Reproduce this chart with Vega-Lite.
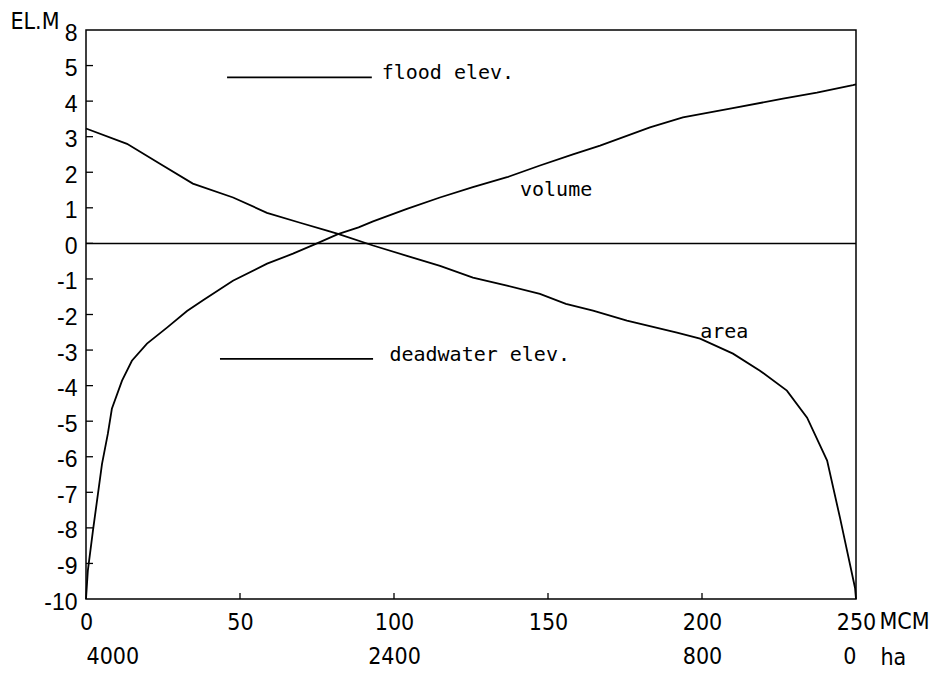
{
  "$schema": "https://vega.github.io/schema/vega-lite/v6.json",
  "width": 770,
  "height": 569,
  "autosize": {"type": "none"},
  "padding": {"left": 86, "top": 30, "right": 75, "bottom": 76},
  "background": "white",
  "config": {
    "view": {"stroke": "black", "strokeWidth": 1.5},
    "axis": {
      "domain": false,
      "grid": false,
      "ticks": false,
      "labelColor": "black",
      "titleColor": "black",
      "labelOverlap": false,
      "labelBound": false,
      "titleFontWeight": "normal"
    }
  },
  "datasets": {
    "volume": [
      {"mcm": 0, "elev": -10.0},
      {"mcm": 0.6, "elev": -9.2},
      {"mcm": 2.3, "elev": -8.05},
      {"mcm": 5.2, "elev": -6.2},
      {"mcm": 7.1, "elev": -5.35},
      {"mcm": 8.4, "elev": -4.65},
      {"mcm": 11.7, "elev": -3.86},
      {"mcm": 14.9, "elev": -3.3},
      {"mcm": 19.8, "elev": -2.82},
      {"mcm": 26.3, "elev": -2.37},
      {"mcm": 32.8, "elev": -1.9},
      {"mcm": 38.0, "elev": -1.6},
      {"mcm": 47.7, "elev": -1.05},
      {"mcm": 58.8, "elev": -0.57},
      {"mcm": 67.2, "elev": -0.29},
      {"mcm": 75.0, "elev": 0.0},
      {"mcm": 81.8, "elev": 0.26},
      {"mcm": 88.5, "elev": 0.45},
      {"mcm": 93.2, "elev": 0.62},
      {"mcm": 104.2, "elev": 0.97},
      {"mcm": 114.9, "elev": 1.29},
      {"mcm": 125.6, "elev": 1.58},
      {"mcm": 136.7, "elev": 1.86},
      {"mcm": 147.4, "elev": 2.19},
      {"mcm": 158.1, "elev": 2.5},
      {"mcm": 166.9, "elev": 2.75},
      {"mcm": 183.1, "elev": 3.26},
      {"mcm": 193.8, "elev": 3.54},
      {"mcm": 210.0, "elev": 3.8},
      {"mcm": 226.3, "elev": 4.07},
      {"mcm": 237.3, "elev": 4.24},
      {"mcm": 249.0, "elev": 4.45},
      {"mcm": 250.0, "elev": 4.47}
    ],
    "area": [
      {"ha": 4000, "elev": 3.23},
      {"ha": 3787, "elev": 2.8},
      {"ha": 3616, "elev": 2.24},
      {"ha": 3445, "elev": 1.68},
      {"ha": 3236, "elev": 1.29},
      {"ha": 3060, "elev": 0.86},
      {"ha": 2888, "elev": 0.58},
      {"ha": 2748, "elev": 0.36},
      {"ha": 2691, "elev": 0.27},
      {"ha": 2509, "elev": -0.06},
      {"ha": 2333, "elev": -0.35},
      {"ha": 2161, "elev": -0.63},
      {"ha": 1990, "elev": -0.96},
      {"ha": 1813, "elev": -1.19},
      {"ha": 1642, "elev": -1.42},
      {"ha": 1507, "elev": -1.7},
      {"ha": 1366, "elev": -1.89},
      {"ha": 1190, "elev": -2.17},
      {"ha": 930, "elev": -2.51},
      {"ha": 810, "elev": -2.68},
      {"ha": 639, "elev": -3.1},
      {"ha": 499, "elev": -3.58},
      {"ha": 359, "elev": -4.14},
      {"ha": 254, "elev": -4.9},
      {"ha": 150, "elev": -6.11},
      {"ha": 83, "elev": -7.72},
      {"ha": 5, "elev": -9.69},
      {"ha": 0, "elev": -10.0}
    ],
    "levels": [
      {"name": "flood elev.", "from": 45.8, "to": 92.8, "elev": 4.67},
      {"name": "deadwater elev.", "from": 43.5, "to": 93.2, "elev": -3.25}
    ],
    "notes": [
      {"text": "flood elev.", "mcm": 96.0, "elev": 4.62},
      {"text": "deadwater elev.", "mcm": 98.5, "elev": -3.32},
      {"text": "volume", "mcm": 140.9, "elev": 1.34},
      {"text": "area", "mcm": 199.4, "elev": -2.65}
    ],
    "datum": [{"elev": 0}],
    "yticks": [
      {"elev": -9}, {"elev": -8}, {"elev": -7}, {"elev": -6}, {"elev": -5},
      {"elev": -4}, {"elev": -3}, {"elev": -2}, {"elev": -1}, {"elev": 0},
      {"elev": 1}, {"elev": 2}, {"elev": 3}, {"elev": 4}, {"elev": 5}
    ],
    "xticks": [{"mcm": 50}, {"mcm": 100}, {"mcm": 150}, {"mcm": 200}]
  },
  "layer": [
    {
      "layer": [
        {
          "data": {"name": "volume"},
          "mark": {"type": "line", "color": "black", "strokeWidth": 1.8},
          "encoding": {
            "x": {
              "field": "mcm",
              "type": "quantitative",
              "scale": {"domain": [0, 250], "nice": false, "zero": false},
              "axis": {
                "orient": "bottom",
                "values": [0, 50, 100, 150, 200, 250],
                "labelPadding": 12.5,
                "labelFlush": false,
                "labelFont": "DejaVu Sans Condensed, Liberation Sans",
                "labelFontSize": 23,
                "title": "MCM",
                "titleFont": "DejaVu Sans Condensed, Liberation Sans",
                "titleFontSize": 23,
                "titleAngle": 0,
                "titleAlign": "left",
                "titleBaseline": "middle",
                "titleAnchor": null,
                "titleX": 793,
                "titleY": 22.5
              }
            },
            "y": {
              "field": "elev",
              "type": "quantitative",
              "scale": {"domain": [-10, 6], "nice": false, "zero": false},
              "axis": {
                "orient": "left",
                "values": [-10, -9, -8, -7, -6, -5, -4, -3, -2, -1, 0, 1, 2, 3, 4, 5, 6],
                "labelExpr": "datum.value == 6 ? '8' : toString(datum.value)",
                "labelPadding": 9,
                "labelOffset": 3,
                "labelFont": "Liberation Sans",
                "labelFontSize": 23,
                "title": "EL.M",
                "titleFont": "DejaVu Sans Condensed, Liberation Sans",
                "titleFontSize": 23,
                "titleAngle": 0,
                "titleAlign": "left",
                "titleBaseline": "middle",
                "titleAnchor": null,
                "titleX": -76,
                "titleY": -9
              }
            }
          }
        },
        {
          "data": {"name": "datum"},
          "mark": {"type": "rule", "color": "black", "strokeWidth": 1.5},
          "encoding": {
            "y": {
              "field": "elev",
              "type": "quantitative",
              "axis": {
                "orient": "left",
                "values": [-10, -9, -8, -7, -6, -5, -4, -3, -2, -1, 0, 1, 2, 3, 4, 5, 6],
                "labelExpr": "datum.value == 6 ? '8' : toString(datum.value)",
                "labelPadding": 9,
                "labelOffset": 3,
                "labelFont": "Liberation Sans",
                "labelFontSize": 23,
                "title": "EL.M",
                "titleFont": "DejaVu Sans Condensed, Liberation Sans",
                "titleFontSize": 23,
                "titleAngle": 0,
                "titleAlign": "left",
                "titleBaseline": "middle",
                "titleAnchor": null,
                "titleX": -76,
                "titleY": -9
              }
            }
          }
        },
        {
          "data": {"name": "yticks"},
          "mark": {"type": "tick", "orient": "horizontal", "size": 14, "thickness": 1.3, "color": "black", "opacity": 1, "clip": true},
          "encoding": {
            "x": {
              "datum": 0,
              "type": "quantitative",
              "axis": {
                "orient": "bottom",
                "values": [0, 50, 100, 150, 200, 250],
                "labelPadding": 12.5,
                "labelFlush": false,
                "labelFont": "DejaVu Sans Condensed, Liberation Sans",
                "labelFontSize": 23,
                "title": "MCM",
                "titleFont": "DejaVu Sans Condensed, Liberation Sans",
                "titleFontSize": 23,
                "titleAngle": 0,
                "titleAlign": "left",
                "titleBaseline": "middle",
                "titleAnchor": null,
                "titleX": 793,
                "titleY": 22.5
              }
            },
            "y": {
              "field": "elev",
              "type": "quantitative",
              "axis": {
                "orient": "left",
                "values": [-10, -9, -8, -7, -6, -5, -4, -3, -2, -1, 0, 1, 2, 3, 4, 5, 6],
                "labelExpr": "datum.value == 6 ? '8' : toString(datum.value)",
                "labelPadding": 9,
                "labelOffset": 3,
                "labelFont": "Liberation Sans",
                "labelFontSize": 23,
                "title": "EL.M",
                "titleFont": "DejaVu Sans Condensed, Liberation Sans",
                "titleFontSize": 23,
                "titleAngle": 0,
                "titleAlign": "left",
                "titleBaseline": "middle",
                "titleAnchor": null,
                "titleX": -76,
                "titleY": -9
              }
            }
          }
        },
        {
          "data": {"name": "xticks"},
          "mark": {"type": "tick", "orient": "vertical", "size": 12, "thickness": 1.3, "color": "black", "opacity": 1, "clip": true},
          "encoding": {
            "x": {
              "field": "mcm",
              "type": "quantitative",
              "axis": {
                "orient": "bottom",
                "values": [0, 50, 100, 150, 200, 250],
                "labelPadding": 12.5,
                "labelFlush": false,
                "labelFont": "DejaVu Sans Condensed, Liberation Sans",
                "labelFontSize": 23,
                "title": "MCM",
                "titleFont": "DejaVu Sans Condensed, Liberation Sans",
                "titleFontSize": 23,
                "titleAngle": 0,
                "titleAlign": "left",
                "titleBaseline": "middle",
                "titleAnchor": null,
                "titleX": 793,
                "titleY": 22.5
              }
            },
            "y": {
              "datum": -10,
              "type": "quantitative",
              "axis": {
                "orient": "left",
                "values": [-10, -9, -8, -7, -6, -5, -4, -3, -2, -1, 0, 1, 2, 3, 4, 5, 6],
                "labelExpr": "datum.value == 6 ? '8' : toString(datum.value)",
                "labelPadding": 9,
                "labelOffset": 3,
                "labelFont": "Liberation Sans",
                "labelFontSize": 23,
                "title": "EL.M",
                "titleFont": "DejaVu Sans Condensed, Liberation Sans",
                "titleFontSize": 23,
                "titleAngle": 0,
                "titleAlign": "left",
                "titleBaseline": "middle",
                "titleAnchor": null,
                "titleX": -76,
                "titleY": -9
              }
            }
          }
        },
        {
          "data": {"name": "levels"},
          "mark": {"type": "rule", "color": "black", "strokeWidth": 1.8},
          "encoding": {
            "x": {
              "field": "from",
              "type": "quantitative",
              "axis": {
                "orient": "bottom",
                "values": [0, 50, 100, 150, 200, 250],
                "labelPadding": 12.5,
                "labelFlush": false,
                "labelFont": "DejaVu Sans Condensed, Liberation Sans",
                "labelFontSize": 23,
                "title": "MCM",
                "titleFont": "DejaVu Sans Condensed, Liberation Sans",
                "titleFontSize": 23,
                "titleAngle": 0,
                "titleAlign": "left",
                "titleBaseline": "middle",
                "titleAnchor": null,
                "titleX": 793,
                "titleY": 22.5
              }
            },
            "x2": {"field": "to"},
            "y": {
              "field": "elev",
              "type": "quantitative",
              "axis": {
                "orient": "left",
                "values": [-10, -9, -8, -7, -6, -5, -4, -3, -2, -1, 0, 1, 2, 3, 4, 5, 6],
                "labelExpr": "datum.value == 6 ? '8' : toString(datum.value)",
                "labelPadding": 9,
                "labelOffset": 3,
                "labelFont": "Liberation Sans",
                "labelFontSize": 23,
                "title": "EL.M",
                "titleFont": "DejaVu Sans Condensed, Liberation Sans",
                "titleFontSize": 23,
                "titleAngle": 0,
                "titleAlign": "left",
                "titleBaseline": "middle",
                "titleAnchor": null,
                "titleX": -76,
                "titleY": -9
              }
            }
          }
        },
        {
          "data": {"name": "notes"},
          "mark": {
            "type": "text",
            "align": "left",
            "baseline": "alphabetic",
            "font": "DejaVu Sans Mono",
            "fontSize": 20,
            "color": "black"
          },
          "encoding": {
            "x": {
              "field": "mcm",
              "type": "quantitative",
              "axis": {
                "orient": "bottom",
                "values": [0, 50, 100, 150, 200, 250],
                "labelPadding": 12.5,
                "labelFlush": false,
                "labelFont": "DejaVu Sans Condensed, Liberation Sans",
                "labelFontSize": 23,
                "title": "MCM",
                "titleFont": "DejaVu Sans Condensed, Liberation Sans",
                "titleFontSize": 23,
                "titleAngle": 0,
                "titleAlign": "left",
                "titleBaseline": "middle",
                "titleAnchor": null,
                "titleX": 793,
                "titleY": 22.5
              }
            },
            "y": {
              "field": "elev",
              "type": "quantitative",
              "axis": {
                "orient": "left",
                "values": [-10, -9, -8, -7, -6, -5, -4, -3, -2, -1, 0, 1, 2, 3, 4, 5, 6],
                "labelExpr": "datum.value == 6 ? '8' : toString(datum.value)",
                "labelPadding": 9,
                "labelOffset": 3,
                "labelFont": "Liberation Sans",
                "labelFontSize": 23,
                "title": "EL.M",
                "titleFont": "DejaVu Sans Condensed, Liberation Sans",
                "titleFontSize": 23,
                "titleAngle": 0,
                "titleAlign": "left",
                "titleBaseline": "middle",
                "titleAnchor": null,
                "titleX": -76,
                "titleY": -9
              }
            },
            "text": {"field": "text"}
          }
        }
      ]
    },
    {
      "data": {"name": "area"},
      "mark": {"type": "line", "color": "black", "strokeWidth": 1.8},
      "encoding": {
        "x": {
          "field": "ha",
          "type": "quantitative",
          "scale": {"domain": [0, 4000], "reverse": true, "nice": false, "zero": false},
          "axis": {
            "orient": "bottom",
            "values": [4000, 2400, 800, 0],
            "format": "d",
            "labelPadding": 46.5,
            "labelFlush": true,
            "labelFont": "DejaVu Sans Condensed, Liberation Sans",
            "labelFontSize": 23,
            "title": "ha",
            "titleFont": "DejaVu Sans Condensed, Liberation Sans",
            "titleFontSize": 23,
            "titleAngle": 0,
            "titleAlign": "left",
            "titleBaseline": "middle",
            "titleAnchor": null,
            "titleX": 794,
            "titleY": 58
          }
        },
        "y": {
          "field": "elev",
          "type": "quantitative",
          "axis": {
            "orient": "left",
            "values": [-10, -9, -8, -7, -6, -5, -4, -3, -2, -1, 0, 1, 2, 3, 4, 5, 6],
            "labelExpr": "datum.value == 6 ? '8' : toString(datum.value)",
            "labelPadding": 9,
            "labelOffset": 3,
            "labelFont": "Liberation Sans",
            "labelFontSize": 23,
            "title": "EL.M",
            "titleFont": "DejaVu Sans Condensed, Liberation Sans",
            "titleFontSize": 23,
            "titleAngle": 0,
            "titleAlign": "left",
            "titleBaseline": "middle",
            "titleAnchor": null,
            "titleX": -76,
            "titleY": -9
          }
        }
      }
    }
  ],
  "resolve": {"scale": {"x": "independent"}, "axis": {"x": "independent"}}
}
